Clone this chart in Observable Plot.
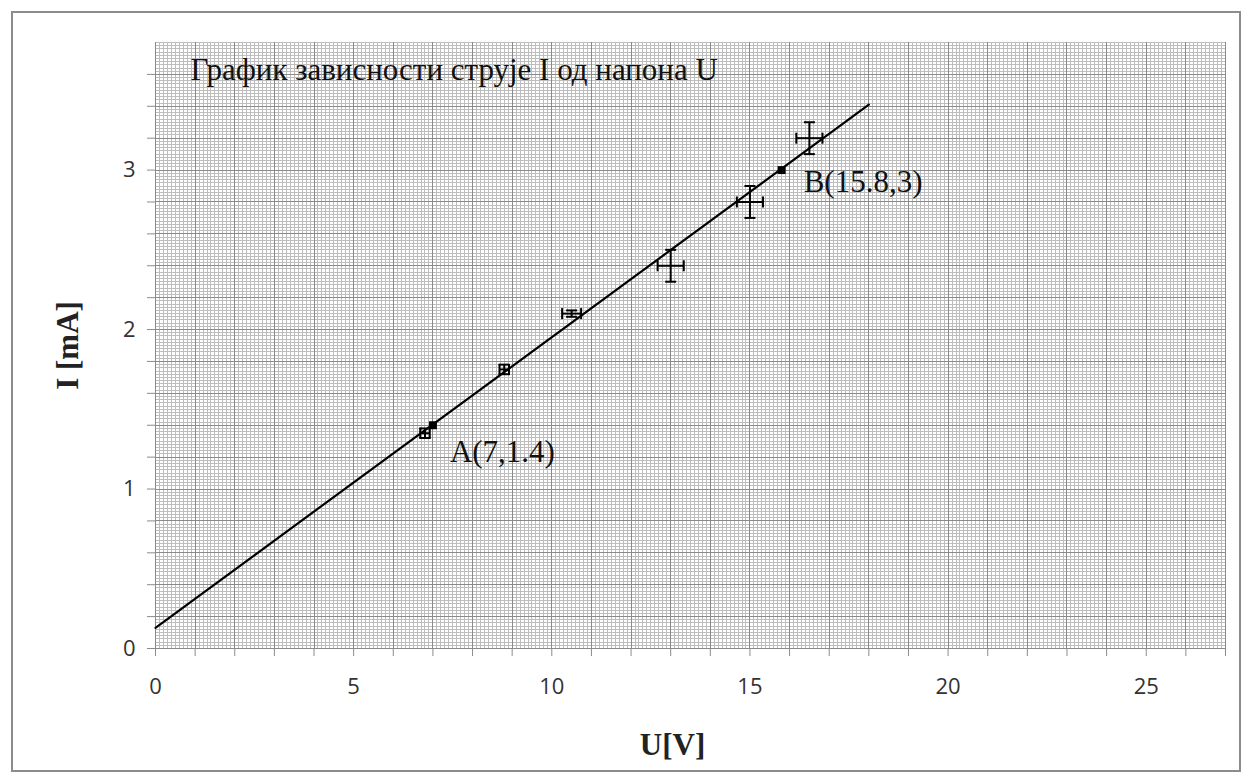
<!DOCTYPE html>
<html><head><meta charset="utf-8">
<script src="https://cdn.jsdelivr.net/npm/d3@7"></script>
<script src="https://cdn.jsdelivr.net/npm/@observablehq/plot@0.6"></script>
<style>
body{margin:0;background:#fff;}
#wrap{position:relative;width:1253px;height:782px;}
#border{position:absolute;left:11px;top:11px;width:1230px;height:761px;border:2px solid #8c8c8c;box-sizing:border-box;}
#chart{position:absolute;left:0;top:0;}
</style></head><body><div id="wrap"><div id="border"></div><div id="chart"></div></div>
<script>
// Measurements
const U = [6.8, 8.8, 10.5, 13, 15, 16.5];
const I = [1.35, 1.75, 2.1, 2.4, 2.8, 3.2];
const dU = [0.12, 0.12, 0.24, 0.33, 0.33, 0.33];
const dI = [0.03, 0.03, 0.02, 0.1, 0.1, 0.1];
// Fitted line endpoints
const fitU = [0, 18];
const fitI = [0.13, 3.41];
// Marked points
const markLabels = ["A(7,1.4)", "B(15.8,3)"];
const markU = [7, 15.8];
const markI = [1.4, 3];
// Ticks
const xTicks = d3.range(0, 28, 1);
const xLabels = [0, 5, 10, 15, 20, 25];
const yTicks = d3.range(0, 19).map(k => +(k * 0.2).toFixed(2));
const yLabels = [0, 1, 2, 3];
const fineX = d3.range(0, 271).map(k => +(k * 0.1).toFixed(2));
const fineY = d3.range(0, 191).map(k => +(k * 0.02).toFixed(3));
const title = "График зависности струје I од напона U";
const xTitle = "U[V]";
const yTitle = "I [mA]";

const errs = U.map((u, k) => ({u, i: I[k], du: dU[k], di: dI[k]}));
const fit = fitU.map((u, k) => ({u, i: fitI[k]}));
const marks = markU.map((u, k) => ({u, i: markI[k], label: markLabels[k]}));

const vbar = {draw(ctx, size) { const r = Math.sqrt(size / Math.PI); ctx.moveTo(0, -r); ctx.lineTo(0, r); }};
const hbar = {draw(ctx, size) { const r = Math.sqrt(size / Math.PI); ctx.moveTo(-r, 0); ctx.lineTo(r, 0); }};

const vcaps = errs.flatMap(d => [{x: d.u - d.du, y: d.i}, {x: d.u + d.du, y: d.i}]);
const hcaps = errs.flatMap(d => [{x: d.u, y: d.i - d.di}, {x: d.u, y: d.i + d.di}]);

const serif = "Liberation Serif, Times New Roman, serif";

const chart = Plot.plot({
  width: 1253, height: 782,
  marginLeft: 155, marginRight: 28, marginTop: 42, marginBottom: 134,
  x: {domain: [0, 27]},
  y: {domain: [0, 3.8]},
  style: {background: "transparent", fontFamily: "Open Sans, sans-serif"},
  marks: [
    Plot.ruleX(fineX, {stroke: "#bdbdbd", strokeWidth: 1, shapeRendering: "crispEdges"}),
    Plot.ruleY(fineY, {stroke: "#bdbdbd", strokeWidth: 1, shapeRendering: "crispEdges"}),
    Plot.ruleX(xTicks, {stroke: "#8a8a8a", strokeWidth: 1, shapeRendering: "crispEdges"}),
    Plot.ruleY(yTicks, {stroke: "#8a8a8a", strokeWidth: 1, shapeRendering: "crispEdges"}),
    Plot.axisX({ticks: xTicks, tickSize: 8, tickFormat: () => "", stroke: "#8c8c8c", strokeWidth: 1, label: null}),
    Plot.axisY({ticks: yTicks, tickSize: 8, tickFormat: () => "", stroke: "#8c8c8c", strokeWidth: 1, label: null}),
    Plot.axisX({ticks: xLabels, tickSize: 0, tickPadding: 30, fontSize: 22, fill: "#333", tickFormat: d => String(d), label: null}),
    Plot.axisY({ticks: yLabels, tickSize: 0, tickPadding: 20, fontSize: 22, fill: "#333", tickFormat: d => String(d), label: null}),
    Plot.line(fit, {x: "u", y: "i", stroke: "black", strokeWidth: 2.2}),
    Plot.link(errs, {x1: d => d.u - d.du, x2: d => d.u + d.du, y1: "i", y2: "i", stroke: "black", strokeWidth: 2}),
    Plot.link(errs, {x1: "u", x2: "u", y1: d => d.i - d.di, y2: d => d.i + d.di, stroke: "black", strokeWidth: 2}),
    Plot.dot(vcaps, {x: "x", y: "y", symbol: vbar, r: 5.5, stroke: "black", strokeWidth: 2, fill: "none"}),
    Plot.dot(hcaps, {x: "x", y: "y", symbol: hbar, r: 5.5, stroke: "black", strokeWidth: 2, fill: "none"}),
    Plot.dot(marks, {x: "u", y: "i", symbol: "square", r: 4.5, fill: "black", stroke: "none"}),
    Plot.text(marks.slice(0, 1), {x: "u", y: "i", text: "label", dx: 17, dy: 27, textAnchor: "start", lineAnchor: "middle", fontSize: 31, fontFamily: serif, fill: "#111"}),
    Plot.text(marks.slice(1), {x: "u", y: "i", text: "label", dx: 22, dy: 12, textAnchor: "start", lineAnchor: "middle", fontSize: 31, fontFamily: serif, fill: "#111"}),
    Plot.text([title], {frameAnchor: "top-left", dx: 35, dy: 28, text: d => d, textAnchor: "start", lineAnchor: "middle", fontSize: 31, fontFamily: serif, fill: "#111"}),
    Plot.text([xTitle], {frameAnchor: "bottom", dx: -18, dy: 97, text: d => d, textAnchor: "middle", lineAnchor: "middle", fontSize: 31, fontWeight: "bold", fontFamily: serif, fill: "#222"}),
    Plot.text([yTitle], {frameAnchor: "left", dx: -87, text: d => d, rotate: -90, textAnchor: "middle", lineAnchor: "middle", fontSize: 31, fontWeight: "bold", fontFamily: serif, fill: "#222"})
  ]
});
document.getElementById("chart").append(chart);
</script>
</body></html>
